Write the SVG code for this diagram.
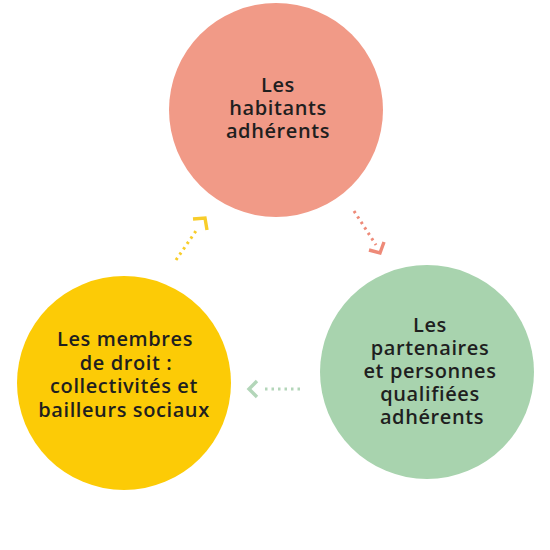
<svg xmlns="http://www.w3.org/2000/svg" width="550" height="550" viewBox="0 0 550 550">
<style>
.lbl{font-family:"Open Sans","Liberation Sans",sans-serif;font-weight:600;font-size:20px;letter-spacing:0.6px;fill:#1f1f1f;text-anchor:middle}
.dot{fill:none;stroke-width:3;stroke-dasharray:2.5 4;stroke-linecap:butt}
.chev{fill:none;stroke-width:3.4;stroke-linecap:butt;stroke-linejoin:miter}
</style>
<rect width="550" height="550" fill="#ffffff"/>
<g id="node-habitants">
<circle cx="276" cy="110" r="107" fill="#F19A87"/>
<text class="lbl" x="278" y="92">Les</text>
<text class="lbl" x="278" y="115">habitants</text>
<text class="lbl" x="278" y="138">adhérents</text>
</g>
<g id="node-partenaires">
<circle cx="427" cy="372" r="107" fill="#A8D3AE"/>
<text class="lbl" x="430" y="332">Les</text>
<text class="lbl" x="430" y="355">partenaires</text>
<text class="lbl" x="430" y="378">et personnes</text>
<text class="lbl" x="430" y="401">qualifiées</text>
<text class="lbl" x="432" y="424">adhérents</text>
</g>
<g id="node-membres">
<circle cx="124" cy="383" r="107" fill="#FCCB06"/>
<text class="lbl" x="125" y="346">Les membres</text>
<text class="lbl" x="126" y="370">de droit :</text>
<text class="lbl" x="124" y="393">collectivités et</text>
<text class="lbl" x="124" y="417">bailleurs sociaux</text>
</g>
<g id="connectors">
<line class="dot" x1="354" y1="211" x2="376" y2="245" stroke="#EE8A78"/>
<polyline class="chev" points="369,250 380,253 384,242" stroke="#EE8A78"/>
<line class="dot" x1="176" y1="260" x2="198" y2="228" stroke="#F8CD2A"/>
<polyline class="chev" points="193,219 205,218 207,230" stroke="#F8CD2A"/>
<line class="dot" x1="300" y1="389" x2="264" y2="389" stroke="#B3D6B9"/>
<polyline class="chev" points="257,381 249,389 257,397" stroke="#B3D6B9"/>
</g>
</svg>
